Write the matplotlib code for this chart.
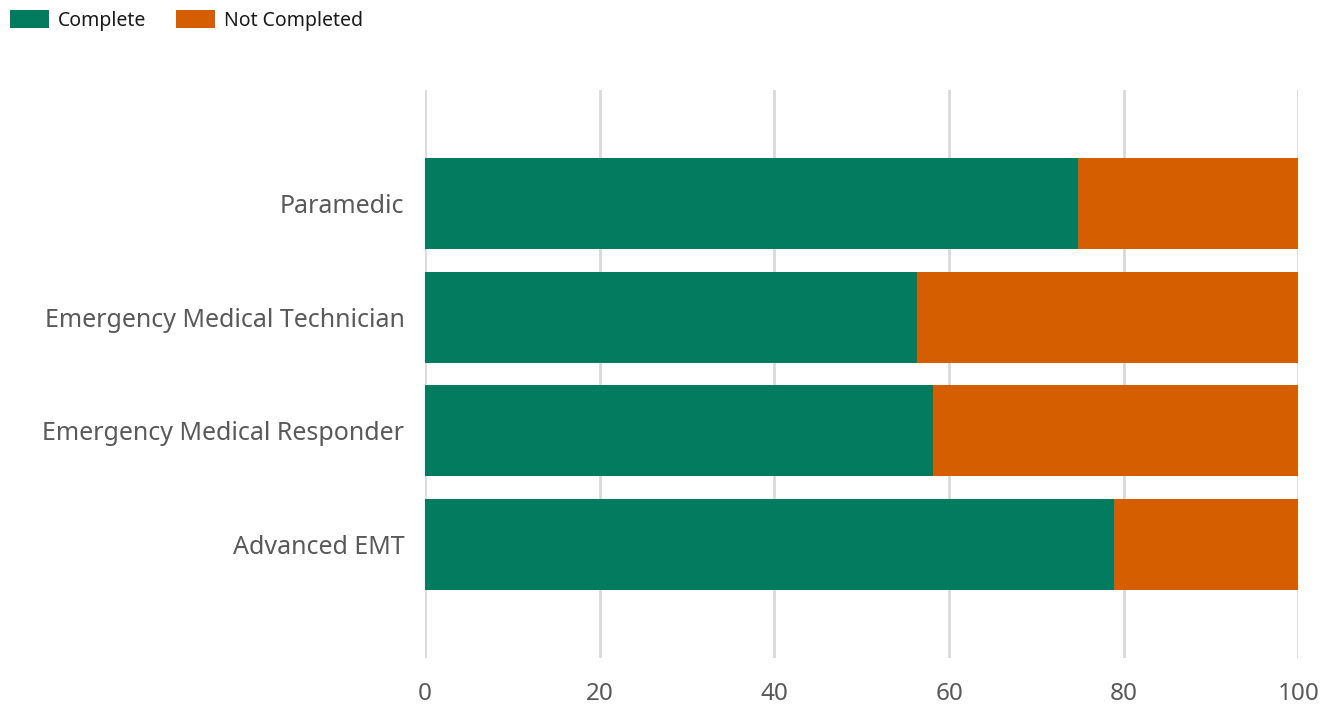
import matplotlib
matplotlib.use("Agg")
import matplotlib.pyplot as plt
from matplotlib.patches import Patch

plt.rcParams['font.family'] = ['Noto Sans', 'DejaVu Sans']

categories = ["Advanced EMT", "Emergency Medical Responder",
              "Emergency Medical Technician", "Paramedic"]
complete = [78.9, 58.2, 56.3, 74.8]
not_completed = [100 - v for v in complete]
series_names = ["Complete", "Not Completed"]
colors = ["#037B5F", "#D55E00"]
x_ticks = [0, 20, 40, 60, 80, 100]

fig = plt.figure(figsize=(13.33, 7.08), dpi=100)
ax = fig.add_axes([0.319, 0.0706, 0.655, 0.8024])

ypos = list(range(len(categories)))
ax.barh(ypos, complete, height=0.8, color=colors[0], zorder=3)
ax.barh(ypos, not_completed, left=complete, height=0.8, color=colors[1], zorder=3)

ax.set_xlim(0, 100)
ax.set_ylim(-1, 4)
ax.set_xticks(x_ticks)
ax.set_xticklabels([str(t) for t in x_ticks])
ax.set_yticks(ypos)
ax.set_yticklabels(categories)
ax.tick_params(axis='both', length=0, labelsize=17.5, colors='#595959')
ax.tick_params(axis='y', labelsize=18, pad=15)
ax.tick_params(axis='x', pad=17)
ax.grid(axis='x', color='#d9d9d9', linewidth=2, zorder=0)
for s in ax.spines.values():
    s.set_visible(False)

handles = [Patch(facecolor=c, edgecolor='none') for c in colors]
fig.legend(handles, series_names, loc='upper left', bbox_to_anchor=(0.0, 1.0),
           ncol=2, frameon=False, fontsize=14, handlelength=2.0, handleheight=1.1,
           handletextpad=0.5, columnspacing=1.5, borderaxespad=0.2,
           borderpad=0.3, labelcolor='#1a1a1a')

fig.savefig("out.png", dpi=100)
